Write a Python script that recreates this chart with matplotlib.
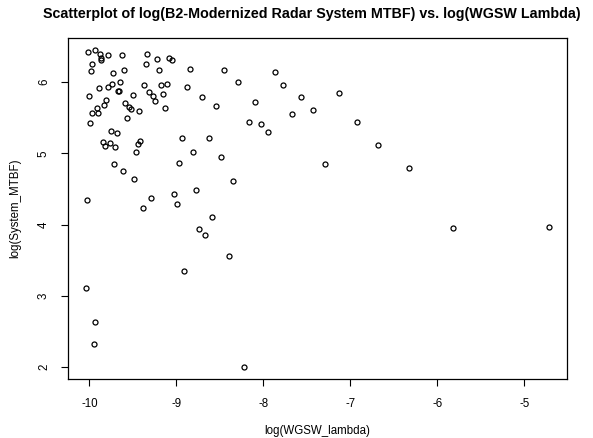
import matplotlib.pyplot as plt

# log(WGSW_lambda) and log(System_MTBF)
log_lambda = [
    -10.015, -9.932, -9.882, -9.871, -9.863, -9.791, -9.627, -9.338, -9.224, -9.083,
    -9.049, -9.966, -9.981, -9.729, -9.604, -9.353, -9.204, -8.847, -8.451, -8.296,
    -10.008, -9.894, -9.787, -9.741, -9.669, -9.661, -9.646, -9.501, -9.372, -9.315,
    -9.269, -9.250, -9.182, -9.106, -9.159, -8.881, -8.710, -8.547, -9.809, -9.832,
    -9.912, -9.969, -9.905, -9.989, -9.586, -9.551, -9.517, -9.433, -9.566, -9.129,
    -9.757, -9.688, -9.844, -9.817, -9.764, -9.707, -9.444, -9.414, -9.463, -8.939,
    -8.630, -8.809, -8.493, -9.715, -9.610, -8.976, -9.483, -8.348, -10.023, -9.296,
    -9.387, -9.026, -8.999, -8.779, -8.588, -8.741, -8.668, -8.398, -8.916, -10.034,
    -9.939, -9.946, -8.227, -7.865, -7.777, -8.097, -7.565, -7.127, -7.675, -7.432,
    -8.166, -8.029, -7.949, -6.929, -6.678, -7.298, -6.332, -5.822, -4.723,
]
log_mtbf = [
    6.419, 6.447, 6.396, 6.340, 6.316, 6.386, 6.382, 6.391, 6.330, 6.334,
    6.306, 6.250, 6.161, 6.128, 6.171, 6.255, 6.171, 6.189, 6.171, 5.996,
    5.808, 5.917, 5.935, 5.977, 5.874, 5.874, 6.001, 5.818, 5.959, 5.865,
    5.812, 5.742, 5.967, 5.977, 5.832, 5.935, 5.790, 5.667, 5.756, 5.681,
    5.635, 5.564, 5.573, 5.423, 5.714, 5.657, 5.625, 5.597, 5.494, 5.635,
    5.310, 5.282, 5.155, 5.103, 5.141, 5.093, 5.135, 5.173, 5.023, 5.212,
    5.220, 5.023, 4.944, 4.845, 4.760, 4.859, 4.638, 4.619, 4.341, 4.374,
    4.238, 4.430, 4.285, 4.492, 4.106, 3.932, 3.852, 3.566, 3.354, 3.114,
    2.635, 2.329, 2.004, 6.142, 5.959, 5.719, 5.790, 5.841, 5.550, 5.606,
    5.437, 5.417, 5.300, 5.446, 5.121, 4.845, 4.797, 3.951, 3.965,
]

x_ticks = [-10, -9, -8, -7, -6, -5]
y_ticks = [2, 3, 4, 5, 6]

plt.rcParams['font.family'] = ['Liberation Sans', 'DejaVu Sans']
plt.rcParams['axes.unicode_minus'] = False

fig = plt.figure(figsize=(5.93, 4.38), dpi=100)
ax = fig.add_axes([0.1147, 0.1336, 0.8415, 0.7804])

ax.plot(log_lambda, log_mtbf, linestyle='', marker='o', markersize=3.6,
        markerfacecolor='none', markeredgecolor='black', markeredgewidth=0.9)
ax.margins(0.04)

ax.set_xticks(x_ticks)
ax.set_xticklabels([str(t) for t in x_ticks])
ax.set_yticks(y_ticks)
ax.set_yticklabels([str(t) for t in y_ticks], rotation=90, va='center')
ax.tick_params(direction='out', length=5, width=0.8, labelsize=8.3, pad=8, colors='black')
for s in ax.spines.values():
    s.set_linewidth(0.9)

ax.set_xlabel('log(WGSW_lambda)', fontsize=8.3, labelpad=11)
ax.set_ylabel('log(System_MTBF)', fontsize=8.3, labelpad=12)
fig.suptitle('Scatterplot of log(B2-Modernized Radar System MTBF) vs. log(WGSW Lambda)',
             fontsize=10.3, fontweight='bold', x=0.525, y=0.983)

fig.savefig('out.png', dpi=100)
